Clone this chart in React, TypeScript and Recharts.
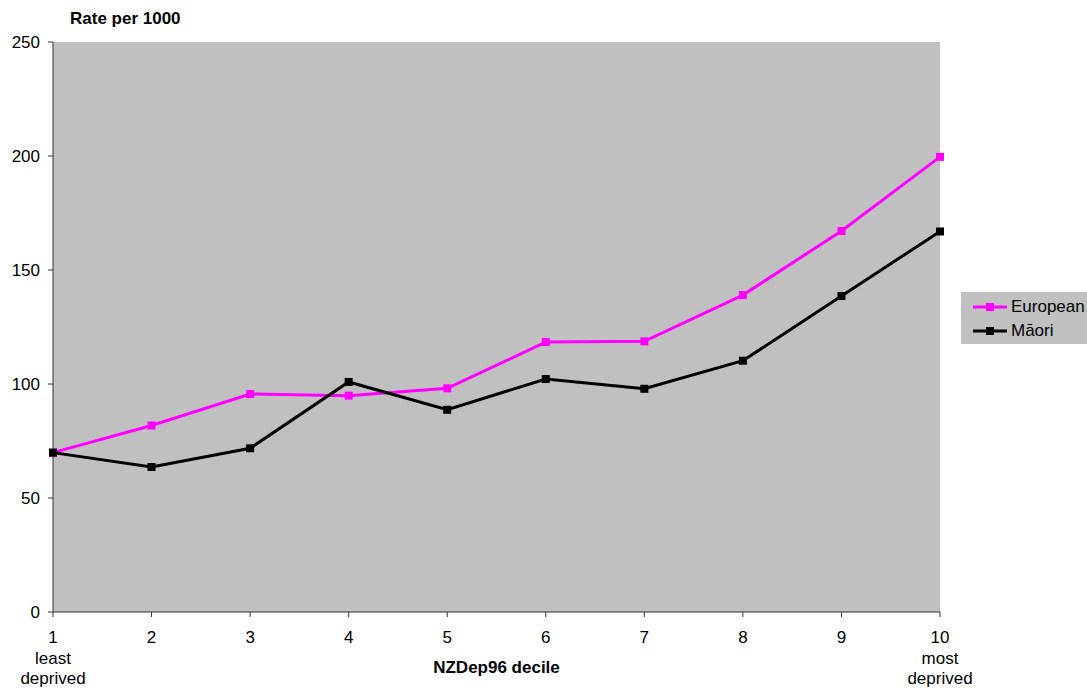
import React from "react";
import {
  LineChart,
  Line,
  XAxis,
  YAxis,
  CartesianGrid,
  Legend,
} from "recharts";

// NZDep96 deprivation deciles (1 = least deprived, 10 = most deprived)
const deciles = [1, 2, 3, 4, 5, 6, 7, 8, 9, 10];
// Rate per 1000 by ethnic group
const europeanRates = [69.9, 81.8, 95.6, 94.9, 98.1, 118.4, 118.7, 139.0, 167.1, 199.6];
const maoriRates = [69.9, 63.6, 71.8, 100.9, 88.7, 102.2, 97.9, 110.2, 138.6, 166.9];
const yTicks = [0, 50, 100, 150, 200, 250];
const xSubLabels: Record<number, string[]> = {
  1: ["least", "deprived"],
  10: ["most", "deprived"],
};

const seriesInfo = [
  { key: "european", name: "European", color: "#FF00FF" },
  { key: "maori", name: "Māori", color: "#000000" },
];

const data = deciles.map((d, i) => ({
  decile: d,
  european: europeanRates[i],
  maori: maoriRates[i],
}));

const FONT = "'Liberation Sans', Arial, sans-serif";
const FONT_SIZE = 17;
const AXIS_COLOR = "#333333";

const SquareDot = (color: string) => (props: any) => {
  const { cx, cy, index } = props;
  if (cx == null || cy == null) return <g key={index} />;
  return (
    <rect
      key={index}
      x={cx - 4}
      y={cy - 4}
      width={8}
      height={8}
      fill={color}
      stroke="none"
    />
  );
};

const XTick = (props: any) => {
  const { x, y, payload } = props;
  const extra = xSubLabels[payload.value] || [];
  return (
    <text
      x={x}
      y={y}
      textAnchor="middle"
      fontSize={FONT_SIZE}
      fill="#000"
      fontFamily={FONT}
    >
      <tspan x={x} dy={26}>
        {payload.value}
      </tspan>
      {extra.map((t, i) => (
        <tspan key={i} x={x} dy={20.5}>
          {t}
        </tspan>
      ))}
    </text>
  );
};

const LegendBox = () => (
  <div
    style={{
      background: "#C0C0C0",
      width: 126,
      height: 52,
      boxSizing: "border-box",
      paddingTop: 3,
      fontFamily: FONT,
      fontSize: FONT_SIZE,
      whiteSpace: "nowrap",
    }}
  >
    {seriesInfo.map((s) => (
      <div
        key={s.key}
        style={{ display: "flex", alignItems: "center", height: 24 }}
      >
        <svg width={50} height={12} style={{ display: "block", flex: "none" }}>
          <line x1={12} y1={6} x2={46} y2={6} stroke={s.color} strokeWidth={3} />
          <rect x={25} y={2} width={8} height={8} fill={s.color} />
        </svg>
        <span style={{ color: "#000" }}>{s.name}</span>
      </div>
    ))}
  </div>
);

export default function App() {
  return (
    <div
      style={{
        position: "absolute",
        left: 0,
        top: 0,
        width: 1087,
        height: 690,
        background: "#fff",
        fontFamily: FONT,
      }}
    >
      <LineChart
        width={1087}
        height={690}
        data={data}
        margin={{ top: 42, right: 147, bottom: 0, left: 0 }}
      >
        <CartesianGrid
          horizontal={false}
          vertical={false}
          fill="#C0C0C0"
          stroke="none"
        />
        <XAxis
          dataKey="decile"
          type="number"
          domain={[1, 10]}
          ticks={deciles}
          interval={0}
          height={78}
          tickSize={5}
          tickMargin={0}
          tick={<XTick />}
          axisLine={{ stroke: AXIS_COLOR, strokeWidth: 1 }}
          tickLine={{ stroke: AXIS_COLOR, strokeWidth: 1 }}
          label={{
            content: (p: any) => {
              const vb = p.viewBox || {};
              return (
                <text
                  x={vb.x + vb.width / 2}
                  y={673}
                  textAnchor="middle"
                  fontWeight="bold"
                  fontSize={FONT_SIZE}
                  fontFamily={FONT}
                  fill="#000"
                >
                  NZDep96 decile
                </text>
              );
            },
          }}
        />
        <YAxis
          type="number"
          domain={[0, 250]}
          ticks={yTicks}
          interval={0}
          width={53}
          tickSize={5}
          tickMargin={8}
          tick={{ fontSize: FONT_SIZE, fill: "#000", fontFamily: FONT }}
          axisLine={{ stroke: AXIS_COLOR, strokeWidth: 1 }}
          tickLine={{ stroke: AXIS_COLOR, strokeWidth: 1 }}
          label={{
            content: () => (
              <text
                x={70}
                y={24}
                textAnchor="start"
                fontWeight="bold"
                fontSize={FONT_SIZE}
                fontFamily={FONT}
                fill="#000"
              >
                Rate per 1000
              </text>
            ),
          }}
        />
        <Legend
          layout="horizontal"
          align="center"
          verticalAlign="middle"
          content={<LegendBox />}
          wrapperStyle={{ position: "absolute", left: 961, top: 292, width: 126 }}
        />
        {seriesInfo.map((s) => (
          <Line
            key={s.key}
            type="linear"
            dataKey={s.key}
            name={s.name}
            stroke={s.color}
            strokeWidth={3}
            dot={SquareDot(s.color)}
            activeDot={false}
            isAnimationActive={false}
          />
        ))}
      </LineChart>
    </div>
  );
}
